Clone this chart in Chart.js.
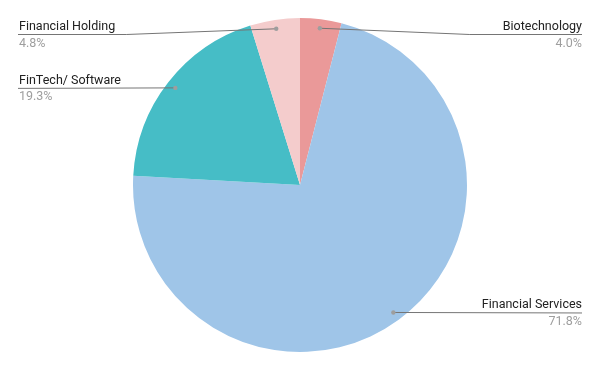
<!DOCTYPE html>
<html>
<head>
<meta charset="utf-8">
<script src="https://cdn.jsdelivr.net/npm/chart.js"></script>
<style>
  html, body { margin: 0; padding: 0; background: #fff; }
  #wrap { width: 600px; height: 371px; position: relative; }
</style>
</head>
<body>
<div id="wrap"><canvas id="myChart"></canvas></div>
<script>
// sectors, clockwise from 12 o'clock
var sectors = ['Biotechnology', 'Financial Services', 'FinTech/ Software', 'Financial Holding'];
var shares = [4.0, 71.8, 19.3, 4.8];   // percent of total
var sectorColors = ['#ea9999', '#9fc5e8', '#46bdc6', '#f4cccc'];

// leader lines + labels, drawn after the slices
var sideLabels = {
  id: 'sideLabels',
  afterDatasetsDraw: function(chart) {
    var c = chart.ctx;
    var area = chart.chartArea;
    var meta = chart.getDatasetMeta(0);
    var leftX = 18, rightX = 582;

    meta.data.forEach(function(arc, i) {
      var p = arc.getProps(['x', 'y', 'startAngle', 'endAngle', 'outerRadius'], true);
      var mid = (p.startAngle + p.endAngle) / 2;
      var r = p.outerRadius - 9;
      var dx = p.x + Math.cos(mid) * r;
      var dy = p.y + Math.sin(mid) * r;
      var onRight = Math.cos(mid) >= 0;
      var ly = Math.max(dy, area.top + 16);
      var endX = onRight ? rightX : leftX;

      c.save();
      // line
      c.strokeStyle = '#757575';
      c.lineWidth = 1;
      c.beginPath();
      c.moveTo(dx, dy);
      if (Math.abs(ly - dy) > 1) {
        var knee = onRight ? dx + 150 : dx - 150;
        c.lineTo(knee, ly + 0.5);
      }
      c.lineTo(endX, ly + 0.5);
      c.stroke();
      // dot
      c.fillStyle = '#9e9e9e';
      c.beginPath();
      c.arc(dx, dy, 2.2, 0, Math.PI * 2);
      c.fill();

      // texts
      c.textAlign = onRight ? 'right' : 'left';
      c.textBaseline = 'alphabetic';
      c.font = '12.5px Roboto';
      c.fillStyle = '#212121';
      c.fillText(sectors[i], onRight ? endX : endX + 1, ly - 4);
      c.fillStyle = '#9e9e9e';
      c.fillText(shares[i].toFixed(1) + '%', onRight ? endX : endX + 1, ly + 12.5);
      c.restore();
    });
  }
};

var ctx = document.getElementById('myChart').getContext('2d');

new Chart(ctx, {
  type: 'pie',
  data: {
    labels: sectors,
    datasets: [{
      data: shares,
      backgroundColor: sectorColors,
      borderWidth: 0
    }]
  },
  options: {
    responsive: true,
    maintainAspectRatio: false,
    animation: false,
    layout: { padding: { top: 18, bottom: 19, left: 0, right: 0 } },
    plugins: {
      legend: { display: false },
      tooltip: { enabled: false }
    }
  },
  plugins: [sideLabels]
});
</script>
</body>
</html>
